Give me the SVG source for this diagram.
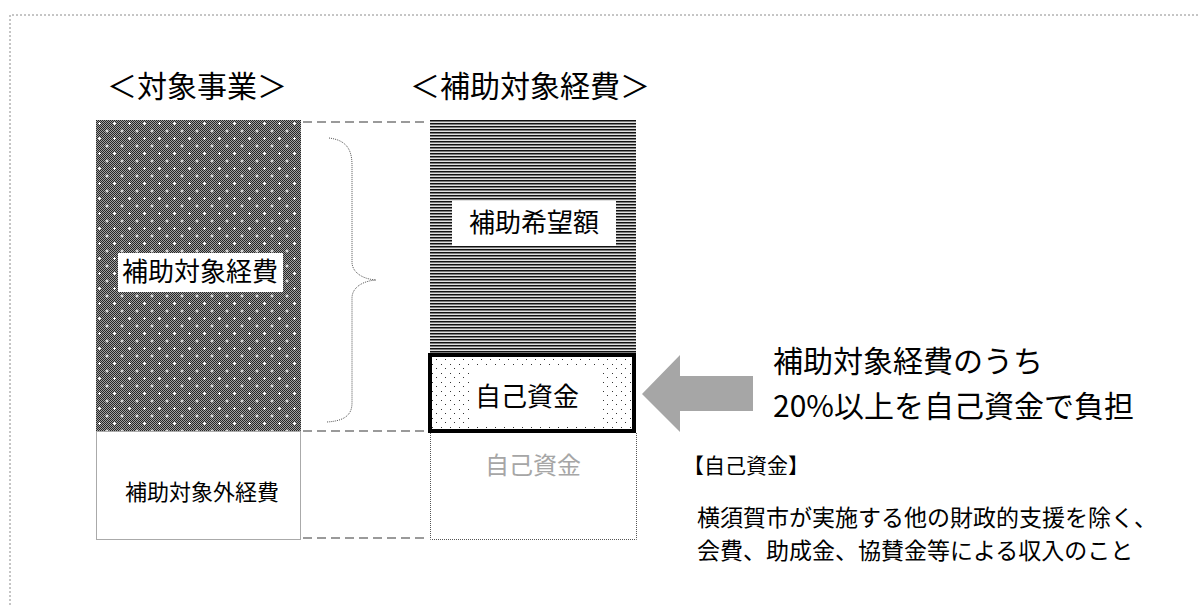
<svg xmlns="http://www.w3.org/2000/svg" width="1198" height="605" viewBox="0 0 1198 605">
<style>
text{font-family:"Noto Sans CJK JP","Noto Sans CJK SC",sans-serif;fill:#000}
.frame{fill:none;stroke:#8c8c8c;stroke-width:1;stroke-dasharray:2 2}
.dot{fill:none;stroke:#555;stroke-width:1;stroke-dasharray:1 1}
.dash{fill:none;stroke:#9a9a9a;stroke-width:2;stroke-dasharray:9 5}
.lbl{fill:#fff}
</style>
<defs>
<pattern id="checker" width="2" height="2" patternUnits="userSpaceOnUse">
<rect width="2" height="2" fill="#a0a0a0"/>
<rect width="1" height="1" fill="#262626"/>
<rect x="1" y="1" width="1" height="1" fill="#262626"/>
</pattern>
<pattern id="plus" width="15" height="15" patternUnits="userSpaceOnUse" x="96" y="120">
<path d="M2 3h3v1h-3z M3 2h1v3h-1z M9.5 10.5h3v1h-3z M10.5 9.5h1v3h-1z" fill="#fff"/>
</pattern>
<pattern id="stripe" width="4" height="3" patternUnits="userSpaceOnUse" y="120">
<rect width="4" height="3" fill="#e0e0e0"/>
<rect width="4" height="1" fill="#111"/>
<rect y="1" width="4" height="1" fill="#7a7a7a"/>
</pattern>
<pattern id="sparse" width="9" height="9" patternUnits="userSpaceOnUse" x="430" y="353">
<rect width="9" height="9" fill="#fff"/>
<rect x="2" y="2" width="1" height="1" fill="#333"/>
<rect x="6" y="6" width="1" height="1" fill="#333"/>
</pattern>
</defs>

<g id="frame">
<path class="frame" d="M10 605V15H1198"/>
</g>

<g id="header-left"><text x="197" y="97" font-size="30" text-anchor="middle">＜対象事業＞</text></g>
<g id="header-right"><text x="530" y="97" font-size="30" text-anchor="middle">＜補助対象経費＞</text></g>

<g id="connectors">
<path class="dash" d="M303 122H428 M303 431H428 M303 538H428"/>
<path class="dot" d="M329 138C345 140 352 148 352 165V262C352 272 362 279 376 280C362 281 352 288 352 298V403C352 416 343 421 327 422"/>
</g>

<g id="node-left-target">
<rect x="96" y="120" width="205" height="311" fill="url(#checker)"/>
<rect x="96" y="120" width="205" height="311" fill="url(#plus)"/>
<rect class="lbl" x="118" y="253" width="165" height="39"/>
<text x="200" y="281" font-size="26" text-anchor="middle">補助対象経費</text>
</g>

<g id="node-left-nontarget">
<rect class="dot" x="96.5" y="431.5" width="204" height="108"/>
<text x="202" y="500" font-size="22" text-anchor="middle">補助対象外経費</text>
</g>

<g id="node-request">
<rect x="430" y="120" width="206" height="234" fill="url(#stripe)"/>
<rect class="lbl" x="452" y="201" width="164" height="45"/>
<text x="534" y="232" font-size="26" text-anchor="middle">補助希望額</text>
</g>

<g id="node-own">
<rect x="430" y="355" width="204" height="76" fill="url(#sparse)" stroke="#000" stroke-width="4"/>
<rect class="lbl" x="470" y="368" width="133" height="55"/>
<text x="527" y="406" font-size="26" text-anchor="middle">自己資金</text>
</g>

<g id="node-own-outside">
<path class="dot" d="M430.5 433V539.5H636.5V433"/>
<text x="533" y="474" font-size="24" text-anchor="middle" style="fill:#a6a6a6">自己資金</text>
</g>

<g id="arrow">
<polygon points="642,394 680,355 680,376 753,376 753,411 680,411 680,432" fill="#a6a6a6"/>
</g>

<g id="note-big">
<text x="773" y="372" font-size="30">補助対象経費のうち</text>
<text x="773" y="417" font-size="30">20%以上を自己資金で負担</text>
</g>

<g id="note-definition">
<text x="683" y="473" font-size="21">【自己資金】</text>
<text x="697" y="526" font-size="23">横須賀市が実施する他の財政的支援を除く、</text>
<text x="697" y="559" font-size="23">会費、助成金、協賛金等による収入のこと</text>
</g>
</svg>
